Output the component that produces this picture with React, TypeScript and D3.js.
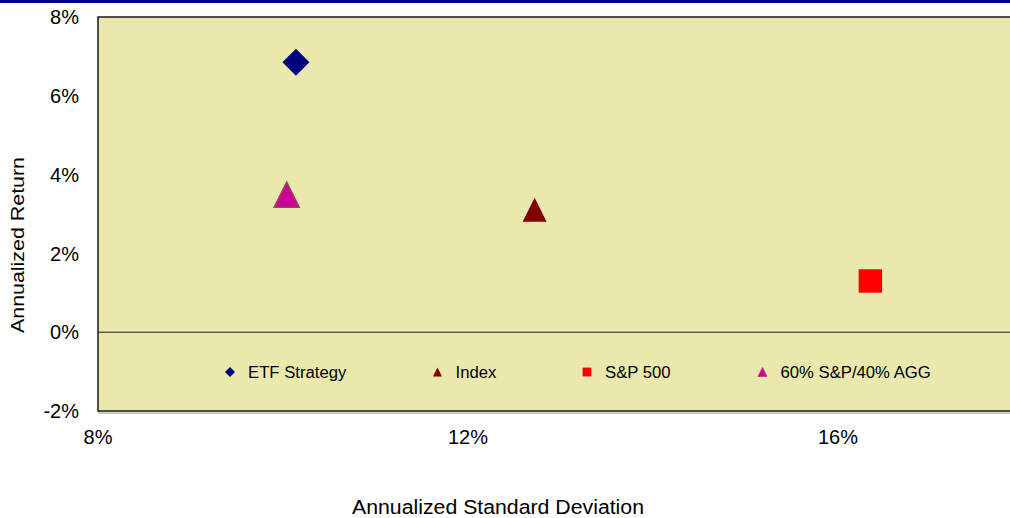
import { useRef, useEffect } from 'react'
import * as d3 from 'd3'

const seriesNames = ["ETF Strategy", "Index", "S&P 500", "60% S&P/40% AGG"]
const stdDevs = [0.1014, 0.1272, 0.1635, 0.1004]
const returns = [0.0685, 0.0311, 0.0130, 0.0349]
const xTicks = [0.08, 0.12, 0.16]
const yTicks = [-0.02, 0, 0.02, 0.04, 0.06, 0.08]

const markerKinds = ["diamond", "triangle", "square", "triangle"]
const fills = ["#000080", "#800000", "#FF0000", "#CC0099"]
const strokes = ["none", "none", "none", "#A0405A"]

// marker outline around a center, r = half width
function markerPath(kind: string, cx: number, cy: number, r: number) {
  if (kind === "diamond") {
    return `M${cx},${cy - r}L${cx + r},${cy}L${cx},${cy + r}L${cx - r},${cy}Z`
  }
  if (kind === "square") {
    return `M${cx - r},${cy - r}H${cx + r}V${cy + r}H${cx - r}Z`
  }
  const h = r * 2
  return `M${cx},${cy - h / 2}L${cx + r},${cy + h / 2}L${cx - r},${cy + h / 2}Z`
}

export default function App() {
  const svgRef = useRef<SVGSVGElement>(null)
  const width = 1010
  const height = 518

  useEffect(() => {
    if (!svgRef.current) return
    const svg = d3.select(svgRef.current)
    svg.selectAll("*").remove()

    const left = 98, top = 17, bottom = 411
    const x = d3.scaleLinear().domain([0.08, 0.18]).range([left, 1023])
    const y = d3.scaleLinear().domain([-0.02, 0.08]).range([bottom, top])
    // plain hyphen for negatives, like the original
    const fmt = (d: number) => d3.format(".0%")(d).replace("\u2212", "-")
    const font = "Arial, 'Liberation Sans', sans-serif"

    svg.append("rect").attr("width", width).attr("height", height).attr("fill", "#fff")
    // top banner line
    svg.append("rect").attr("x", 0).attr("y", 0).attr("width", width).attr("height", 3).attr("fill", "#000080")

    // plot area
    svg.append("line")
      .attr("x1", left).attr("x2", 1023)
      .attr("y1", bottom + 2).attr("y2", bottom + 2)
      .attr("stroke", "#b8b8b8").attr("stroke-width", 1.5)
    svg.append("rect")
      .attr("x", left).attr("y", top)
      .attr("width", x(0.18) - left).attr("height", bottom - top)
      .attr("fill", "#EAE8AC")
      .attr("stroke", "#1a1a1a").attr("stroke-width", 1.5)

    svg.append("line")
      .attr("x1", left).attr("x2", x(0.18))
      .attr("y1", y(0)).attr("y2", y(0))
      .attr("stroke", "#1a1a1a").attr("stroke-width", 1)

    // y tick labels
    svg.append("g").selectAll("text")
      .data(yTicks).enter().append("text")
      .attr("x", 79).attr("y", d => y(d))
      .attr("dy", "0.36em")
      .attr("text-anchor", "end")
      .style("font-family", font).style("font-size", "20px").style("fill", "#000")
      .text(d => fmt(d))

    // x tick labels
    svg.append("g").selectAll("text")
      .data(xTicks).enter().append("text")
      .attr("x", d => x(d)).attr("y", 444)
      .attr("text-anchor", "middle")
      .style("font-family", font).style("font-size", "20px").style("fill", "#000")
      .text(d => fmt(d))

    // axis titles
    svg.append("text")
      .attr("transform", "translate(24,245) rotate(-90)")
      .attr("text-anchor", "middle")
      .attr("textLength", 176).attr("lengthAdjust", "spacingAndGlyphs")
      .style("font-family", font).style("font-size", "19px")
      .text("Annualized Return")
    svg.append("text")
      .attr("x", 498).attr("y", 514)
      .attr("text-anchor", "middle")
      .attr("textLength", 292).attr("lengthAdjust", "spacingAndGlyphs")
      .style("font-family", font).style("font-size", "20px")
      .text("Annualized Standard Deviation")

    // points
    const sizes = [13.5, 12, 11.7, 12.5]
    svg.append("g").selectAll("path")
      .data(seriesNames).enter().append("path")
      .attr("d", (_, i) => markerPath(markerKinds[i], x(stdDevs[i]), y(returns[i]), sizes[i]))
      .attr("fill", (_, i) => fills[i])
      .attr("stroke", (_, i) => strokes[i])
      .attr("stroke-width", 1.5)

    // legend
    const legendX = [230, 437.5, 587, 762.5]
    const legendY = 372
    const lg = svg.append("g")
    seriesNames.forEach((name, i) => {
      const r = markerKinds[i] === "diamond" ? 5 : markerKinds[i] === "square" ? 4.4 : 4.5
      lg.append("path")
        .attr("d", markerPath(markerKinds[i], legendX[i], legendY, r))
        .attr("fill", fills[i])
        .attr("stroke", i === 3 ? "#B04080" : "none")
        .attr("stroke-width", 0.8)
      lg.append("text")
        .attr("x", legendX[i] + 18).attr("y", legendY)
        .attr("dy", "0.36em")
        .style("font-family", font).style("font-size", "16.7px").style("fill", "#000")
        .text(name)
    })
  }, [])

  return (
    <div style={{ position: 'fixed', left: 0, top: 0 }}>
      <svg ref={svgRef} width={width} height={height} style={{ display: 'block' }} />
    </div>
  )
}
